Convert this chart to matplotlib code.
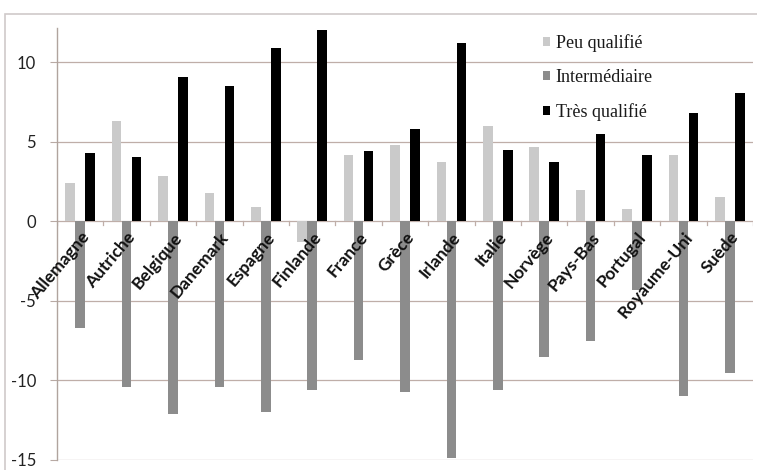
import matplotlib
matplotlib.use("Agg")
import matplotlib.pyplot as plt
from matplotlib.patches import Rectangle
import numpy as np

pays = ["Allemagne", "Autriche", "Belgique", "Danemark", "Espagne", "Finlande",
        "France", "Grèce", "Irlande", "Italie", "Norvège", "Pays-Bas",
        "Portugal", "Royaume-Uni", "Suède"]
peu_qualifie = [2.4, 6.3, 2.85, 1.75, 0.9, -1.3, 4.15, 4.8, 3.7, 6.0, 4.7, 1.95, 0.75, 4.15, 1.55]
intermediaire = [-6.7, -10.4, -12.1, -10.4, -12.0, -10.6, -8.7, -10.7, -14.9, -10.6, -8.5, -7.55, -4.3, -11.0, -9.55]
tres_qualifie = [4.3, 4.05, 9.1, 8.5, 10.9, 12.0, 4.4, 5.8, 11.2, 4.5, 3.75, 5.5, 4.15, 6.8, 8.05]
y_ticks = [-15, -10, -5, 0, 5, 10]

W, H = 757, 470
fig = plt.figure(figsize=(W / 100, H / 100), dpi=100)
fig.patch.set_facecolor("white")

# light outer frame of the chart area
fig.patches.append(Rectangle((5 / W, -0.05), 1.1, 1 - 14 / H + 0.05,
                             transform=fig.transFigure, fill=False,
                             edgecolor="#cfcaca", linewidth=1.2, zorder=0))

top_px, bot_px = 28, 460
ax = fig.add_axes([57 / W, (H - bot_px) / H, (753 - 57) / W, (bot_px - top_px) / H])
ax.set_facecolor("none")

x = np.arange(len(pays))
w = 0.205
off = 0.215
c_peu, c_int, c_tres = "#cacaca", "#8c8c8c", "#000000"
ax.bar(x - off, peu_qualifie, w, color=c_peu, label="Peu qualifié", zorder=3)
ax.bar(x, intermediaire, w, color=c_int, label="Intermédiaire", zorder=3)
ax.bar(x + off, tres_qualifie, w, color=c_tres, label="Très qualifié", zorder=3)

ax.set_xlim(-0.5, len(pays) - 0.5)
ax.set_ylim(-15, 12.15)
ax.set_yticks(y_ticks)
ax.set_yticklabels([str(v) for v in y_ticks], fontfamily="Lato", fontsize=12,
                   color="#222222")
ax.tick_params(axis="y", length=5, color="#b8aaa4", pad=10)
ax.set_xticks([])

grid_c = "#bfaea8"
for v in y_ticks:
    ax.axhline(v, color=grid_c, linewidth=0.9, zorder=1)

for s in ["top", "right", "bottom"]:
    ax.spines[s].set_visible(False)
ax.spines["left"].set_color("#b0a49e")
ax.spines["left"].set_linewidth(1.0)

# small tick marks between categories on the zero line
for b in np.arange(-0.5, len(pays), 1.0):
    ax.plot([b, b], [0, -0.2], color=grid_c, linewidth=0.9, zorder=2)

# rotated country names sitting on the zero line
for i, name in enumerate(pays):
    ax.text(i - 0.0, -0.5, name, rotation=50, ha="right", va="top",
            rotation_mode="anchor", fontfamily="Lato", fontweight="bold",
            fontsize=12.5, color="#111111", zorder=4)

leg = ax.legend(loc="upper left", bbox_to_anchor=(543 / W, 1 - 34 / H),
                bbox_transform=fig.transFigure, frameon=False,
                prop={"family": "Liberation Serif", "size": 13},
                handlelength=0.4, handleheight=0.4, handletextpad=0.3,
                labelspacing=0.95, borderaxespad=0, borderpad=0)
for t in leg.get_texts():
    t.set_color("#1a1a1a")

fig.savefig("out.png", dpi=100)
